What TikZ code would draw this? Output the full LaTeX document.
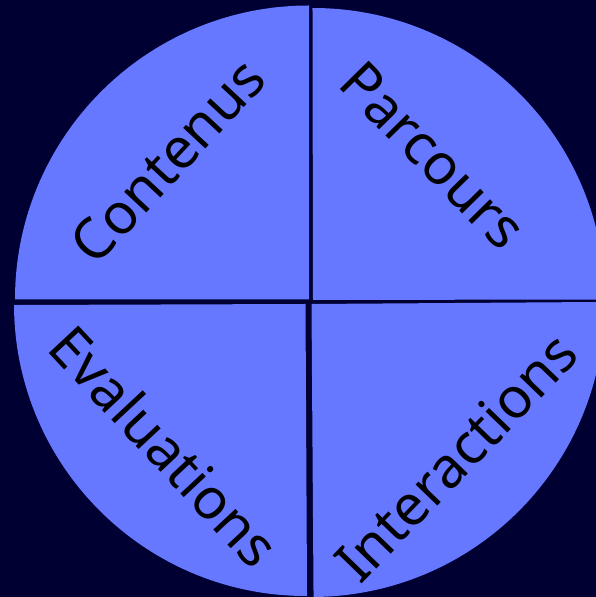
\documentclass[tikz,border=0pt]{standalone}
\usepackage{fontspec}
\setmainfont{Noto Sans}
\definecolor{bgnavy}{HTML}{000033}
\definecolor{piefill}{HTML}{6678FF}
\tikzset{
  x=1pt,y=1pt,
  pie/.style={fill=piefill,draw=none},
  lab/.style={font=\fontsize{56.5}{56.5}\selectfont,text=black,inner sep=0pt,anchor=center},
}
\begin{document}
\begin{tikzpicture}
\useasboundingbox (0,0) rectangle (596,597);
\clip (0,0) rectangle (596,597);
\fill[bgnavy] (0,0) rectangle (596,597);
% quarters (y = 597 - pixel row)
\fill[pie] (309,297.5) -- (15,297.5) arc[start angle=180,end angle=90,radius=294pt] -- cycle;
\fill[pie,rotate around={0.1:(313,297)}] (313,297) -- (313,589) arc[start angle=90,end angle=0,radius=292pt] -- cycle;
\fill[pie,rotate around={0.2:(305.5,293)}] (305.5,293) -- (14,293) arc[start angle=180,end angle=270,radius=292pt] -- cycle;
\fill[pie,rotate around={0.4:(311.5,293)}] (311.5,293) -- (311.5,0) arc[start angle=270,end angle=360,radius=293pt] -- cycle;
\node[lab,rotate=47] (contenus) at (167.5,436.5) {Contenus};
\node[lab,rotate=-45.5] (parcours) at (433,441.5) {Parcours};
\node[lab,rotate=-47] (evaluations) at (165,151) {Evaluations};
\node[lab,rotate=46] (interactions) at (456,140) {Interactions};
\end{tikzpicture}
\end{document}
